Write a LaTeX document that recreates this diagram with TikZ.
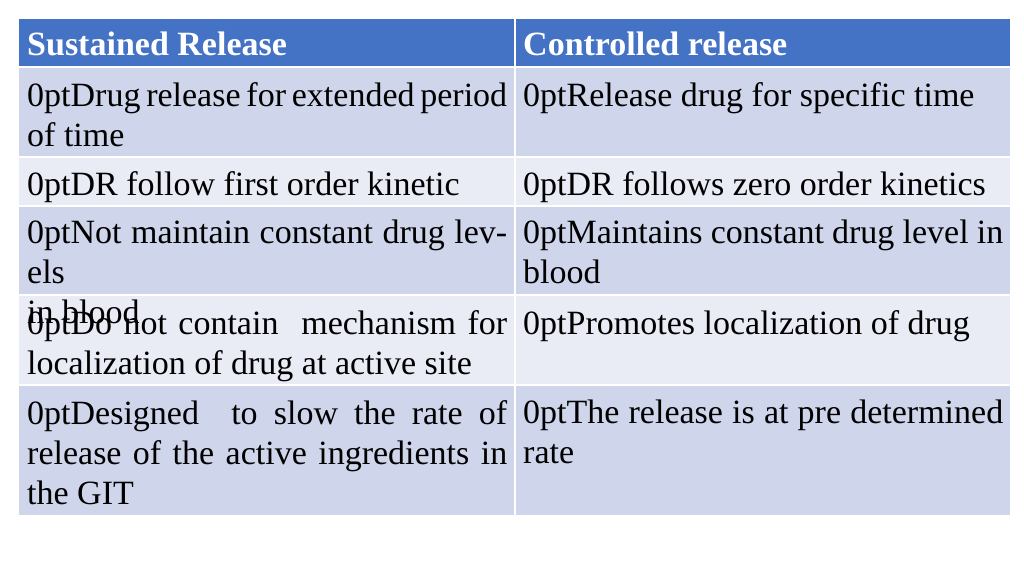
\documentclass[tikz,border=0pt]{standalone}
\usepackage{fontspec}
\setmainfont{Liberation Serif}
\definecolor{headblue}{HTML}{4472C4}
\definecolor{rowdark}{HTML}{CFD5EA}
\definecolor{rowlight}{HTML}{E9EBF5}
\begin{document}
\begin{tikzpicture}[
	x=1pt,y=-1pt,
	every node/.style={inner sep=0pt,anchor=north west,align=justify,
		font=\fontsize{34}{40}\selectfont\hyphenpenalty=10000 },
	leftcell/.style={text width=480},
	rightcell/.style={text width=480},
	headcell/.style={font=\fontsize{34}{40}\selectfont\bfseries,text=white}
]
\useasboundingbox (0,0) rectangle (1024,576);

% cell backgrounds
\fill[headblue] (19,19) rectangle (1010,67);
\fill[rowdark] (19,67) rectangle (1010,157);
\fill[rowlight] (19,157) rectangle (1010,206);
\fill[rowdark] (19,206) rectangle (1010,295);
\fill[rowlight] (19,295) rectangle (1010,385);
\fill[rowdark] (19,385) rectangle (1010,515);

% grid lines
\foreach \y in {67,157,206,295,385}
	\draw[white,line width=2] (19,\y) -- (1010,\y);
\draw[white,line width=2] (515,19) -- (515,515);

% header
\node[headcell] (hsr) at (27,32) {Sustained Release};
\node[headcell] (hcr) at (523,32) {Controlled release};

% rows
\node[leftcell] (sr1) at (27,82) {Drug release for extended period\linebreak of time};
\node[rightcell] (cr1) at (523,82) {Release\ drug for specific time};
\node[leftcell] (sr2) at (27,171) {DR follow first order kinetic};
\node[rightcell] (cr2) at (523,171) {DR follows zero order kinetics};
\node[leftcell] (sr3) at (27,220) {Not maintain constant drug levels\linebreak in blood};
\node[rightcell] (cr3) at (523,220) {Maintains constant drug level in\linebreak blood};
\node[leftcell] (sr4) at (27,310) {Do not contain\ \ mechanism for\linebreak localization of drug at active site};
\node[rightcell] (cr4) at (523,310) {Promotes localization of drug};
\node[leftcell] (sr5) at (27,400) {Designed\ \ to slow the rate of\linebreak release of the active ingredients in\linebreak the GIT};
\node[rightcell] (cr5) at (523,400) {The release is at pre determined\linebreak rate};

\end{tikzpicture}
\end{document}
